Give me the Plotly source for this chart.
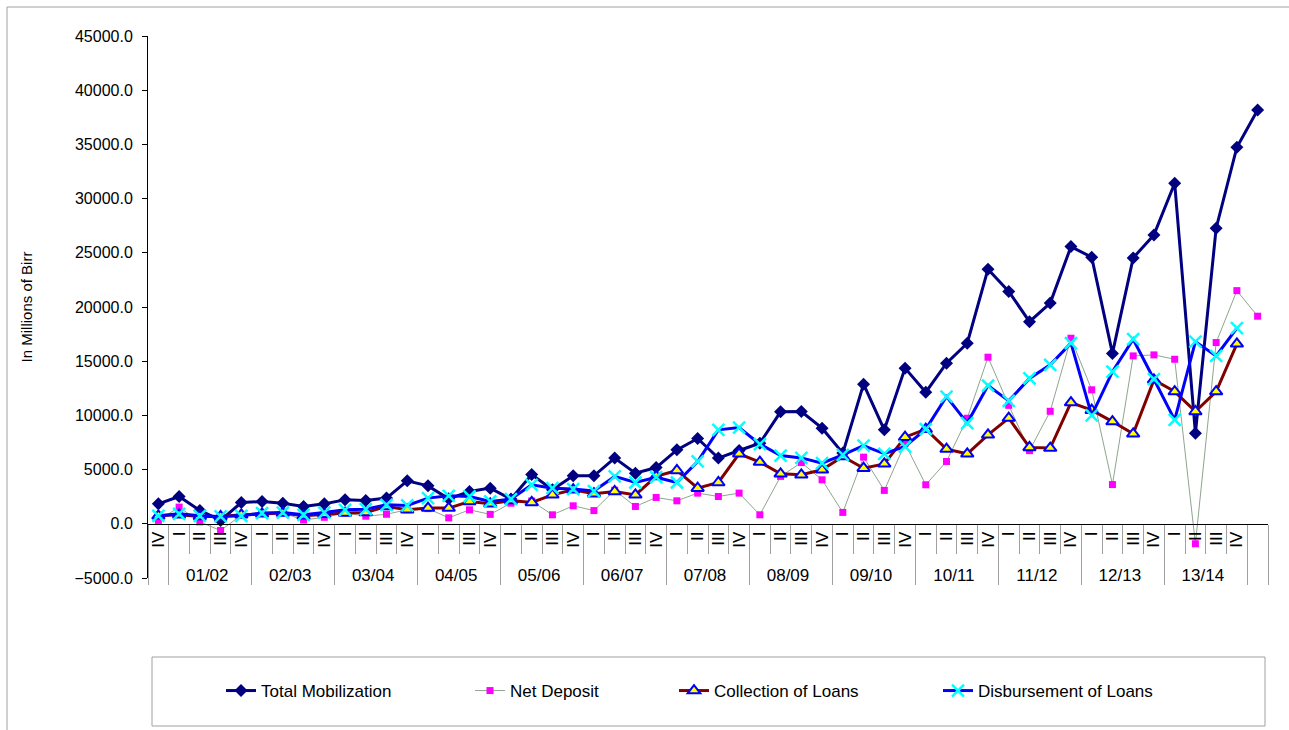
import plotly.graph_objects as go

# ---------------- data ----------------
years = ["01/02", "02/03", "03/04", "04/05", "05/06", "06/07", "07/08",
         "08/09", "09/10", "10/11", "11/12", "12/13", "13/14"]
quarters = ["I", "II", "III", "IV"]
first_quarter = "IV\u200b"                               # IV of 00/01 (no year label)

total_mobilization = [1840, 2520, 1230, 310, 1960, 2060, 1900, 1600, 1840, 2210,
                      2150, 2370, 3970, 3500, 2300, 2980, 3290, 2280, 4550, 3140,
                      4430, 4430, 6060, 4670, 5190, 6820, 7870, 6060, 6760, 7440,
                      10330, 10360, 8820, 6520, 12880, 8670, 14360, 12140, 14820, 16660,
                      23490, 21440, 18650, 20360, 25570, 24590, 15720, 24530, 26650, 31420,
                      8360, 27270, 34740, 38180]
net_deposit = [310, 1540, 180, -620, 800, 1000, 1000, 350, 600, 1000,
               700, 880, 1300, 1400, 550, 1290, 870, 1900, 2100, 830,
               1660, 1220, 3100, 1600, 2430, 2120, 2830, 2520, 2830, 830,
               4370, 5650, 4060, 1050, 6150, 3080, 7400, 3600, 5750, 9740,
               15370, 10930, 6750, 10380, 17120, 12360, 3620, 15490, 15580, 15180,
               -1840, 16720, 21510, 19150]
collection_of_loans = [740, 830, 680, 680, 830, 920, 990, 740, 890, 990,
                       1040, 1600, 1290, 1450, 1450, 2060, 1840, 2150, 1970, 2670,
                       3140, 2780, 2980, 2670, 4370, 4920, 3290, 3810, 6460, 5690,
                       4610, 4520, 4980, 6210, 5130, 5530, 7990, 8730, 6890, 6460,
                       8210, 9750, 7050, 6990, 11180, 10480, 9430, 8300, 13280, 12200,
                       10360, 12200, 16600]
disbursement_of_loans = [740, 920, 740, 680, 740, 990, 1040, 830, 1040, 1290,
                         1350, 1750, 1690, 2370, 2580, 2520, 2060, 2280, 3600, 3290,
                         3200, 3020, 4370, 3810, 4300, 3810, 5750, 8670, 8880, 7350,
                         6300, 6080, 5600, 6360, 7220, 6460, 7130, 8730, 11740, 9290,
                         12750, 11340, 13410, 14670, 16670, 10000, 14040, 17030, 13340, 9590,
                         16810, 15490, 18050]

y_ticks = [-5000, 0, 5000, 10000, 15000, 20000, 25000, 30000, 35000, 40000, 45000]

# ---------------- category axis (two levels) ----------------
level0 = [" "] + [y for y in years for _ in quarters] + ["  "]
level1 = [first_quarter] + quarters * len(years) + [" "]
n_cats = len(level0)


def cats(n):
    return [level0[:n], level1[:n]]


FONT = "Liberation Sans, Arial, sans-serif"

fig = go.Figure()
fig.add_trace(go.Scatter(
    x=cats(len(total_mobilization)), y=total_mobilization, name="Total Mobilization",
    mode="lines+markers", line=dict(color="#000080", width=3),
    marker=dict(symbol="diamond", size=10, color="#000080"), legend="legend"))
fig.add_trace(go.Scatter(
    x=cats(len(net_deposit)), y=net_deposit, name="Net Deposit",
    mode="lines+markers", line=dict(color="#8FA58F", width=1),
    marker=dict(symbol="square", size=7, color="#FF00FF"), legend="legend2"))
fig.add_trace(go.Scatter(
    x=cats(len(collection_of_loans)), y=collection_of_loans, name="Collection of Loans",
    mode="lines+markers", line=dict(color="#800000", width=3),
    marker=dict(symbol="triangle-up", size=11, color="#FFFF00",
                line=dict(color="#0000FF", width=2)), legend="legend3"))
fig.add_trace(go.Scatter(
    x=cats(len(disbursement_of_loans)), y=disbursement_of_loans, name="Disbursement of Loans",
    mode="lines+markers", line=dict(color="#0000FF", width=3),
    marker=dict(symbol="x-thin", size=12, color="#00FFFF",
                line=dict(color="#00FFFF", width=2.5)), legend="legend4"))

W, H = 1289, 730
L, R, T, B = 148, 21, 36, 152
PW, PH = W - L - R, H - T - B


def px_x(p):
    return (p - L) / PW


def px_y(p):
    return (H - B - p) / PH


legend_common = dict(orientation="h", yanchor="middle", xanchor="left",
                     y=px_y(691), bgcolor="rgba(0,0,0,0)", borderwidth=0,
                     font=dict(family=FONT, size=17, color="#000000"))

fig.update_layout(
    width=W, height=H,
    margin=dict(l=L, r=R, t=T, b=B, autoexpand=False),
    paper_bgcolor="#FFFFFF", plot_bgcolor="#FFFFFF",
    font=dict(family=FONT, size=16, color="#000000"),
    showlegend=True,
    legend=dict(legend_common, x=px_x(221)),
    legend2=dict(legend_common, x=px_x(470)),
    legend3=dict(legend_common, x=px_x(674)),
    legend4=dict(legend_common, x=px_x(938)),
    xaxis=dict(type="multicategory", anchor="free", position=0.1,
               range=[-0.5, n_cats - 0.5], autorange=False,
               tickmode="linear", tick0=0, dtick=1, tickangle=-90,
               showline=True, linecolor="#000000", linewidth=1,
               showgrid=False, zeroline=False,
               ticks="outside", ticklen=29, tickcolor="#A0A0A0", tickwidth=1,
               showdividers=True, dividercolor="#A0A0A0", dividerwidth=1,
               tickfont=dict(family=FONT, size=17, color="#000000")),
    yaxis=dict(range=[-5000, 45000], tickvals=y_ticks, tickformat=".1f",
               showline=True, linecolor="#000000", linewidth=1,
               ticks="outside", ticklen=5, tickcolor="#000000",
               ticklabelstandoff=6,
               showgrid=False, zeroline=False,
               tickfont=dict(family=FONT, size=16, color="#000000"),
               title=dict(text="In Millions of Birr", standoff=38,
                          font=dict(family=FONT, size=15, color="#000000"))),
    shapes=[
        dict(type="rect", xref="paper", yref="paper",
             x0=px_x(7), x1=px_x(1300), y0=px_y(745), y1=px_y(7),
             line=dict(color="#A0A0A0", width=1), fillcolor="rgba(0,0,0,0)", layer="below"),
        dict(type="rect", xref="paper", yref="paper",
             x0=px_x(152), x1=px_x(1265), y0=px_y(726), y1=px_y(657),
             line=dict(color="#A0A0A0", width=1), fillcolor="rgba(0,0,0,0)", layer="below"),
    ],
)

fig.write_html("out.html")
